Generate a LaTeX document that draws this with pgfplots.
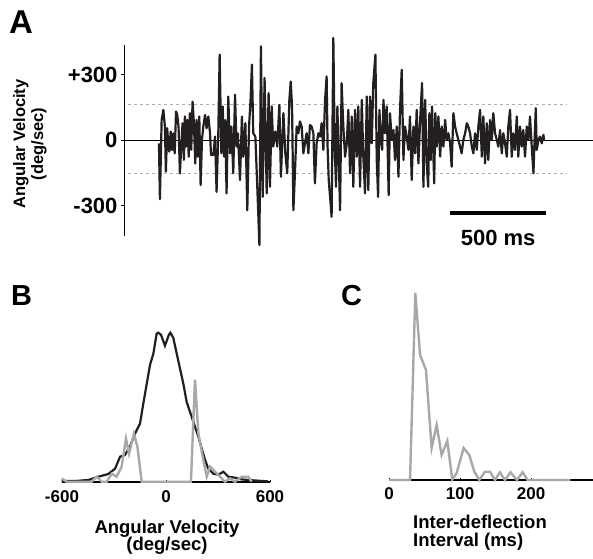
\documentclass[border=0pt]{standalone}
\usepackage{pgfplots}
\pgfplotsset{compat=1.18}
\usepackage{fontspec}
\setmainfont{Liberation Sans}
\definecolor{trace}{RGB}{35,31,32}
\definecolor{grayline}{RGB}{168,168,168}
\definecolor{dashgray}{RGB}{175,175,175}
\newcommand{\fs}[1]{\fontsize{#1}{#1}\selectfont\bfseries}
\begin{document}
\begin{tikzpicture}[x=1pt,y=1pt]
\useasboundingbox (0,0) rectangle (593,558);
% panel letters
\node[anchor=base west,inner sep=0] at (9,524) {\fs{33}A};
\node[anchor=base west,inner sep=0] at (11,253) {\fs{29}B};
\node[anchor=base west,inner sep=0] at (341,253) {\fs{29}C};

% ---------- A: raw trace ----------
\begin{axis}[
  at={(124pt,322pt)}, anchor=south west,
  scale only axis, width=469pt, height=191pt,
  xmin=-182, xmax=2260, ymin=-438, ymax=436,
  axis x line=none, axis y line=left,
  axis line style={-, line width=1pt},
  ytick={-300,0,300}, yticklabels={-300,0,+300},
  yticklabel style={font=\fs{22}},
  tick align=outside, major tick length=3pt,
  tick style={line width=1pt, black},
  clip=false,
]
\addplot[black, line width=1.1pt] coordinates {(-182,0) (2260,0)};
\addplot[dashgray, dashed, line width=1pt] coordinates {(-160,162) (2125,162)};
\addplot[dashgray, dashed, line width=1pt] coordinates {(-160,-152) (2125,-152)};
\addplot[trace, line width=2.2pt, line join=round] coordinates {
(0,-14) (5,-269) (14,93) (23,139) (31,63) (36,-144) (43,55) (49,-29) (54,-52) (61,40)
(68,-44) (75,32) (82,-60) (89,132) (95,116) (102,63) (109,-151) (118,2) (123,78) (130,-90)
(135,109) (141,-29) (148,93) (155,-75) (161,124) (168,-44) (175,177) (182,78) (189,-106) (196,93)
(203,-75) (210,109) (217,-205) (224,2) (231,63) (240,116) (248,55) (257,109) (266,32) (271,-67)
(283,-67) (292,17) (300,-236) (309,32) (316,392) (325,-60) (332,155) (339,-75) (345,93) (352,-243)
(361,200) (370,-60) (377,63) (387,-151) (396,208) (404,-29) (411,32) (422,-182) (432,109) (439,-75)
(450,78) (460,-320) (469,63) (477,185) (484,346) (491,32) (502,17) (512,-213) (523,-480) (531,430)
(540,-259) (550,285) (561,-243) (571,216) (578,-213) (587,155) (595,-29) (606,40) (616,-29) (627,162)
(635,-167) (648,124) (658,-60) (668,-151) (679,185) (686,269) (693,155) (700,-320) (708,-151) (717,63)
(726,32) (734,86) (743,63) (752,-60) (760,-14) (769,32) (778,-60) (786,70) (795,63) (804,32)
(812,-197) (821,-14) (830,32) (839,17) (847,78) (856,-44) (865,185) (873,292) (878,-29) (884,-182)
(891,-259) (899,-350) (908,468) (915,-29) (922,-213) (929,155) (936,-75) (943,-320) (951,262) (960,63)
(969,-75) (978,-14) (986,139) (995,-151) (1004,109) (1012,-213) (1021,139) (1030,-75) (1038,155) (1047,-213)
(1056,185) (1064,-75) (1073,-243) (1082,200) (1090,-228) (1099,200) (1108,-14) (1116,262) (1127,392) (1134,-90)
(1141,-259) (1148,139) (1155,2) (1162,-44) (1169,185) (1177,32) (1186,155) (1196,-251) (1203,124) (1212,2)
(1221,47) (1229,-90) (1238,63) (1247,-167) (1255,139) (1264,323) (1273,-90) (1281,63) (1290,17) (1299,-44)
(1307,109) (1316,-182) (1325,63) (1334,-60) (1342,139) (1351,-106) (1360,93) (1370,262) (1377,-213) (1386,185)
(1395,-121) (1402,-213) (1408,124) (1415,-90) (1422,155) (1433,-197) (1439,124) (1446,-29) (1455,109) (1464,-75)
(1472,63) (1481,-29) (1490,93) (1498,2) (1507,32) (1516,-14) (1524,-121) (1533,124) (1542,63) (1550,32)
(1559,2) (1568,-29) (1576,-60) (1585,2) (1594,32) (1603,78) (1611,63) (1620,32) (1629,-29) (1637,-60)
(1646,32) (1655,-44) (1663,63) (1672,139) (1681,-75) (1689,109) (1698,-106) (1707,78) (1715,-90) (1724,93)
(1733,2) (1741,124) (1750,32) (1759,2) (1767,-29) (1776,47) (1785,-60) (1793,32) (1802,-14) (1811,-75)
(1819,63) (1828,139) (1837,-75) (1845,32) (1854,-44) (1863,109) (1871,-75) (1880,63) (1889,-29) (1897,47)
(1906,-75) (1915,63) (1924,2) (1932,109) (1941,-29) (1950,-151) (1955,-14) (1962,147) (1967,-44) (1976,2)
(1984,17) (1993,-14) (2002,25) (2005,2)
};
% scale bar
\addplot[black, line width=4.5pt] coordinates {(1516,-333) (2016,-333)};
\node at (axis cs:1766,-447) {\fs{22}500 ms};
\end{axis}
\node[rotate=90,anchor=base,inner sep=0] at (25,414) {\fs{16.5}Angular Velocity};
\node[rotate=90,anchor=base,inner sep=0] at (43,414) {\fs{16.5}(deg/sec)};

% ---------- B: velocity histogram ----------
\begin{axis}[
  at={(62pt,76.3pt)}, anchor=south west,
  scale only axis, width=208pt, height=160pt,
  xmin=-600, xmax=600, ymin=0, ymax=160,
  axis x line=bottom, axis y line=none,
  axis line style={-, line width=2pt},
  xtick={-600,0,600}, xticklabels={-600,0,600},
  xticklabel style={font=\fs{17}, yshift=-5pt},
  tick align=inside, major tick length=2pt,
  tick style={line width=0.8pt, black},
  clip=false,
]
\addplot[trace, line width=2.2pt] coordinates {
(-602,0.7) (-525,0.7) (-448,1.7) (-390,5) (-333,7.7) (-294,13) (-265,25) (-237,26.7)
(-208,35) (-179,48) (-150,58) (-131,78) (-112,97) (-92,117) (-73,128) (-54,148)
(-45,149) (-29,147) (-6,136) (17,147) (25,149) (42,144) (62,128) (81,113) (100,98) (119,80)
(148,65) (167,55) (187,45) (206,33) (225,22) (244,13) (273,8) (302,7) (331,10)
(360,5) (398,4) (437,2.3) (475,1.7) (533,1) (590,0.3)
};
\addplot[grayline, line width=2.4pt] coordinates {
(-602,3.3) (-573,0) (-429,0) (-400,5) (-371,0) (-342,0) (-313,8) (-285,5) (-256,15)
(-231,43) (-213,28) (-185,48) (-165,35) (-140,0) (144,0) (167,102) (187,48) (215,22)
(235,5) (254,15) (283,10) (312,5) (340,0) (369,3.3) (398,0) (437,5) (475,5) (494,0)
};
\end{axis}
\node[anchor=base,inner sep=0] at (167,25) {\fs{18.5}Angular Velocity};
\node[anchor=base,inner sep=0] at (167,7.5) {\fs{18.5}(deg/sec)};

% ---------- C: inter-deflection interval ----------
\begin{axis}[
  at={(389pt,78pt)}, anchor=south west,
  scale only axis, width=204pt, height=190pt,
  xmin=0, xmax=287, ymin=0, ymax=190,
  axis x line=bottom, axis y line=none,
  axis line style={-, line width=1.3pt},
  xtick={0,100,200}, xticklabels={0,100,200},
  xticklabel style={font=\fs{17}, yshift=-4pt},
  tick align=inside, major tick length=2.5pt,
  tick style={line width=0.8pt, black},
  clip=false,
]
\addplot[grayline, line width=2.4pt] coordinates {
(0,0) (29.6,0) (37,187) (43.7,125) (52,110) (60,32) (67,55) (74,25) (82,39) (89,0.7)
(95,6.7) (105,32) (113,25) (120,8.3) (127,0) (135,8.3) (142,8.3) (149,0) (156,7.7)
(163,0) (171,7.7) (180,0) (188,7.7) (195,0) (255,0)
};
\end{axis}
\node[anchor=base west,inner sep=0] at (413,30) {\fs{18.5}Inter-deflection};
\node[anchor=base west,inner sep=0] at (413,11.5) {\fs{18.5}Interval (ms)};
\end{tikzpicture}
\end{document}
